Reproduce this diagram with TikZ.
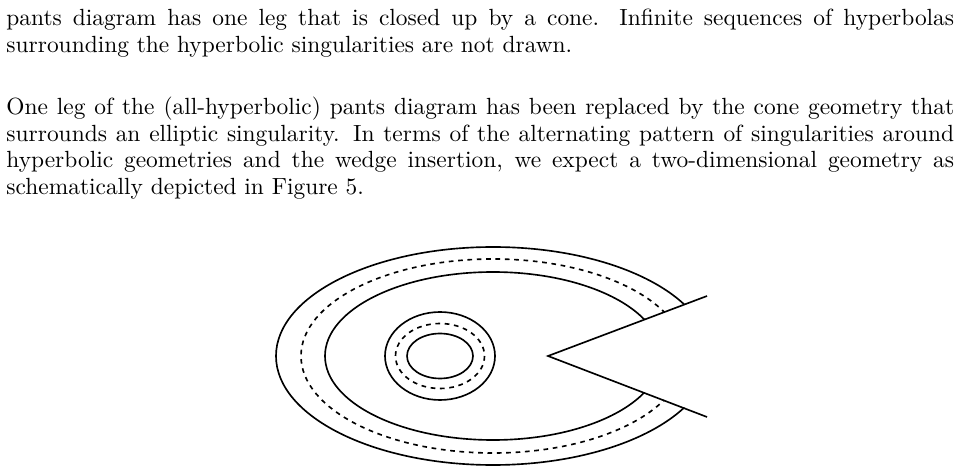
\documentclass[tikz,border=0pt]{standalone}
\usepackage{tikz}
\usetikzlibrary{positioning}
\tikzset{
ring/.style={line width=0.7pt}, % the solid curves
ringdash/.style={line width=0.7pt, dash pattern=on 2pt off 2pt}, % the dashed curves
textline/.style={anchor=base west, inner sep=0pt}, % one line of the page text
}
\newcommand{\fullline}[1]{\hbox to 405pt{#1}}

\begin{document}
\begin{tikzpicture}[x=0.42735pt, y=-0.42735pt]
        \useasboundingbox (0,0) rectangle (961,473);
        % text above the figure
        \node[textline] (l1) at (6,26) {\fullline{pants diagram has one leg that is closed up by a cone.  Infinite sequences of hyperbolas}};
        \node[textline] (l2) at (6,52.5) {surrounding the hyperbolic singularities are not drawn.};
        \node[textline] (l3) at (6,115) {\fullline{One leg of the (all-hyperbolic) pants diagram has been replaced by the cone geometry that}};
        \node[textline] (l4) at (6,141.5) {\fullline{surrounds an elliptic singularity.  In terms of the alternating pattern of singularities around}};
        \node[textline] (l5) at (6,168) {\fullline{hyperbolic geometries and the wedge insertion, we expect a two-dimensional geometry as}};
        \node[textline] (l6) at (6,194.5) {schematically depicted in Figure 5.};
        % the figure
        \coordinate (apex) at (548,356);
        \coordinate (wtop) at (707,296);
        \coordinate (wbot) at (707,417);
        \begin{scope}
        \clip (0,0) -- (961,0) -- (961,200) -- (apex) -- (961,512) -- (961,520) -- (0,520) -- cycle;
        \draw[ring] (493,356) ellipse [x radius=217, y radius=109];
        \draw[ringdash] (493,356) ellipse [x radius=192, y radius=97];
        \draw[ring] (493,356) ellipse [x radius=168, y radius=84];
        \end{scope}
        \draw[ring] (440,356) ellipse [x radius=55, y radius=44];
        \draw[ringdash] (440,356) ellipse [x radius=44.5, y radius=32.5];
        \draw[ring] (440,356) ellipse [x radius=33, y radius=22.5];
        \draw[ring] (wtop) -- (apex) -- (wbot);
\end{tikzpicture}
\end{document}
